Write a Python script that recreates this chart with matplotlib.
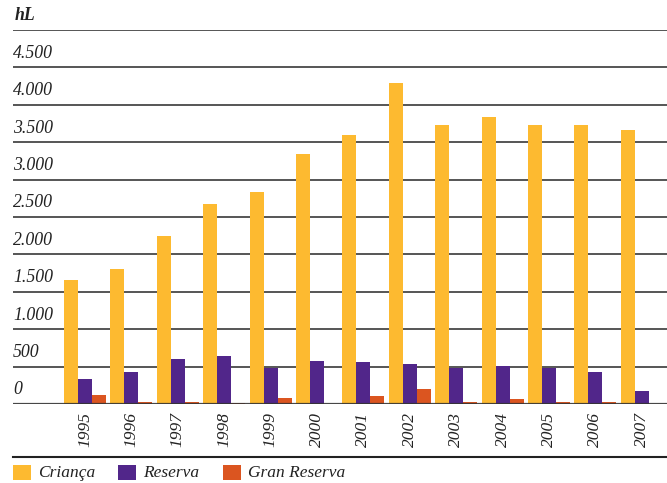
import matplotlib
matplotlib.use("Agg")
import matplotlib.pyplot as plt
from matplotlib.patches import Rectangle
import numpy as np

years = ["1995", "1996", "1997", "1998", "1999", "2000", "2001",
         "2002", "2003", "2004", "2005", "2006", "2007"]
crianca = [1660, 1805, 2240, 2680, 2840, 3340, 3590, 4290, 3730, 3835, 3730, 3730, 3660]
reserva = [335, 430, 603, 643, 482, 576, 563, 536, 482, 509, 482, 430, 174]
gran_reserva = [121, 27, 27, 13, 80, 5, 107, 201, 27, 67, 27, 27, 5]
series_names = ["Criança", "Reserva", "Gran Reserva"]
colors = ["#FDBA30", "#51268A", "#DB5520"]
yticks = [0, 500, 1000, 1500, 2000, 2500, 3000, 3500, 4000, 4500]
ytick_labels = ["0", "500", "1.000", "1.500", "2.000", "2.500", "3.000",
                "3.500", "4.000", "4.500"]

W, H = 667, 483
fig = plt.figure(figsize=(W / 100, H / 100), dpi=100)
serif = ["Liberation Serif", "DejaVu Serif"]

left_px, right_px = 13, 667
y0_px, ytop_px = 404, 30
ax = fig.add_axes([left_px / W, 1 - y0_px / H, (right_px - left_px) / W, (y0_px - ytop_px) / H])

spacing = 46.4
center0 = 85
x = np.arange(len(years))
bw = 14 / spacing
for k, (vals, c) in enumerate(zip([crianca, reserva, gran_reserva], colors)):
    ax.bar(x + (k - 1) * bw, vals, width=bw, color=c, zorder=2, linewidth=0)

ax.set_xlim((left_px - center0) / spacing, (right_px - center0) / spacing)
ax.set_ylim(0, 5000)

for v in yticks[1:] + [5000]:
    ax.axhline(v, color="#555555", lw=1.4, zorder=1)
ax.axhline(0, color="#333333", lw=1.6, zorder=3, alpha=0.9)

for v, lab in zip(yticks, ytick_labels):
    ax.annotate(lab, xy=(0, v), xycoords=("axes fraction", "data"),
                xytext=(0, 4), textcoords="offset points",
                ha="left", va="bottom", fontsize=12.8, style="italic",
                family=serif, color="#222222")
ax.annotate("hL", xy=(0, 5000), xycoords=("axes fraction", "data"),
            xytext=(1, 4), textcoords="offset points",
            ha="left", va="bottom", fontsize=12.8, style="italic", weight="bold",
            family=serif, color="#222222")

ax.set_xticks(x)
ax.set_xticklabels(years, rotation=90, fontsize=12.5, style="italic",
                   family=serif, color="#222222")
ax.tick_params(axis="x", length=0, pad=6)
ax.set_yticks([])
for s in ax.spines.values():
    s.set_visible(False)
ax.patch.set_alpha(0)

# separator line above legend
fig.add_artist(plt.Line2D([13 / W, 1], [1 - 457 / H, 1 - 457 / H],
                          color="#222222", lw=1.5))

# legend
leg_x = [13, 118, 223]
for lx, name, c in zip(leg_x, series_names, colors):
    fig.add_artist(Rectangle((lx / W, 1 - 480 / H), 18 / W, 15 / H,
                             transform=fig.transFigure, color=c, lw=0))
    fig.text((lx + 25) / W, 1 - 473 / H, name, ha="left", va="center",
             fontsize=12.5, style="italic", family=serif, color="#222222")

fig.savefig("out.png", dpi=100)
